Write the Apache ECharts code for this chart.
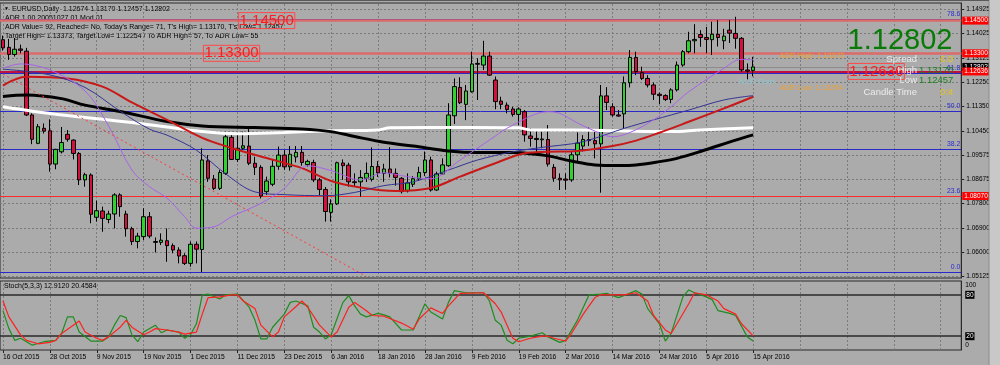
<!DOCTYPE html>
<html><head><meta charset="utf-8">
<script src="https://cdn.jsdelivr.net/npm/echarts@6/dist/echarts.min.js"></script>
<style>html,body{margin:0;padding:0;background:#ababab;overflow:hidden}#c{width:1000px;height:365px}</style>
</head><body><div id="c"></div>
<script>
// ---------- categories (trading days) ----------
const MONTH_DAYS = [
  ['Oct', 2015, [16,19,20,21,22,23,26,27,28,29,30]],
  ['Nov', 2015, [2,3,4,5,6,9,10,11,12,13,16,17,18,19,20,23,24,25,26,27,30]],
  ['Dec', 2015, [1,2,3,4,7,8,9,10,11,14,15,16,17,18,21,22,23,24,28,29,30,31]],
  ['Jan', 2016, [4,5,6,7,8,11,12,13,14,15,18,19,20,21,22,25,26,27,28,29]],
  ['Feb', 2016, [1,2,3,4,5,8,9,10,11,12,15,16,17,18,19,22,23,24,25,26,29]],
  ['Mar', 2016, [1,2,3,4,7,8,9,10,11,14,15,16,17,18,21,22,23,24,25,28,29,30,31]],
  ['Apr', 2016, [1,4,5,6,7,8,11,12,13,14,15]]
];
// ---------- OHLC ----------
const OPEN = [
1.1380,1.1352,1.1326,1.1346,1.1338,1.1104,1.1000,1.1055,1.1046,1.0924,
1.0969,1.1033,1.1012,1.0963,1.0866,1.0884,1.0729,1.0752,1.0721,1.0741,
1.0811,1.0741,1.0687,1.0640,1.0658,1.0731,1.0640,1.0637,1.0643,1.0625,
1.0609,1.0588,1.0560,1.0630,1.0611,1.0936,1.0869,1.0835,1.0890,1.1022,
1.0941,1.0982,1.0990,1.0927,1.0912,1.0823,1.0850,1.0916,1.0957,1.0914,
1.0950,1.0967,1.0922,1.0930,1.0866,1.0831,1.0747,1.0778,1.0928,1.0920,
1.0859,1.0859,1.0872,1.0868,1.0915,1.0890,1.0906,1.0890,1.0872,1.0826,
1.0850,1.0870,1.0893,1.0939,1.0829,1.0888,1.0918,1.1101,1.1205,1.1143,
1.1189,1.1293,1.1287,1.1320,1.1232,1.1155,1.1140,1.1126,1.1106,1.1116,
1.1027,1.1018,1.1013,1.1014,1.0912,1.0872,1.0869,1.0866,1.0958,1.0990,
1.1014,1.1010,1.0998,1.1174,1.1134,1.1104,1.1108,1.1222,1.1315,1.1259,
1.1238,1.1214,1.1180,1.1175,1.1161,1.1196,1.1287,1.1336,1.1376,1.1399,
1.1388,1.1380,1.1400,1.1376,1.1415,1.1403,1.1385,1.1269,1.12674];
const CLOSE = [
1.1350,1.1326,1.1345,1.1341,1.1104,1.1015,1.1061,1.1045,1.0924,1.0978,
1.1003,1.1015,1.0963,1.0866,1.0885,1.0740,1.0753,1.0725,1.0741,1.0811,
1.0768,1.0687,1.0640,1.0660,1.0731,1.0660,1.0637,1.0645,1.0625,1.0609,
1.0587,1.0560,1.0630,1.0612,1.0939,1.0872,1.0835,1.0893,1.1024,1.0941,
1.0982,1.0991,1.0927,1.0912,1.0807,1.0862,1.0916,1.0957,1.0914,1.0960,
1.0967,1.0930,1.0934,1.0866,1.0831,1.0750,1.0778,1.0929,1.0918,1.0859,
1.0856,1.0875,1.0890,1.0915,1.0892,1.0906,1.0890,1.0875,1.0823,1.0855,
1.0870,1.0893,1.0939,1.0829,1.0888,1.0921,1.1104,1.1208,1.1149,1.1192,
1.1291,1.1290,1.1320,1.1250,1.1153,1.1143,1.1124,1.1106,1.1126,1.1031,
1.1018,1.1014,1.1016,1.0924,1.0872,1.0866,1.0865,1.0958,1.1001,1.1014,
1.1010,1.0998,1.1174,1.1150,1.1104,1.1100,1.1222,1.1315,1.1263,1.1238,
1.1214,1.1180,1.1175,1.1161,1.1196,1.1287,1.1336,1.1376,1.1381,1.1388,
1.1381,1.1400,1.1388,1.1393,1.1404,1.1385,1.1269,1.1265,1.12802];
const HIGH = [
1.1395,1.1383,1.1386,1.1362,1.1350,1.1110,1.1071,1.1073,1.1088,1.0980,
1.1060,1.1049,1.1015,1.0968,1.0892,1.0890,1.0790,1.0768,1.0753,1.0817,
1.0817,1.0753,1.0694,1.0672,1.0762,1.0748,1.0655,1.0670,1.0688,1.0633,
1.0619,1.0597,1.0640,1.0640,1.0982,1.0957,1.0884,1.0902,1.1043,1.1030,
1.1039,1.1043,1.1055,1.0951,1.0920,1.0878,1.0941,1.0988,1.0975,1.0990,
1.0990,1.0990,1.0940,1.0940,1.0873,1.0840,1.0795,1.0933,1.0941,1.0929,
1.0890,1.0902,1.0930,1.0985,1.0935,1.0925,1.0986,1.0908,1.0876,1.0890,
1.0880,1.0914,1.0970,1.0951,1.0896,1.0945,1.1147,1.1238,1.1242,1.1214,
1.1336,1.1312,1.1376,1.1336,1.1245,1.1171,1.1150,1.1134,1.1132,1.1122,
1.1055,1.1051,1.1043,1.1067,1.0924,1.0890,1.0890,1.0970,1.1040,1.1030,
1.1058,1.1050,1.1214,1.1206,1.1147,1.1122,1.1245,1.1342,1.1336,1.1281,
1.1250,1.1223,1.1186,1.1180,1.1202,1.1300,1.1342,1.1409,1.1437,1.1415,
1.1427,1.1446,1.1452,1.1420,1.1452,1.1464,1.1390,1.1293,1.13170];
const LOW = [
1.1340,1.1306,1.1318,1.1330,1.1100,1.0997,1.0997,1.1036,1.0896,1.0905,
1.0963,1.1006,1.0941,1.0847,1.0841,1.0707,1.0713,1.0676,1.0707,1.0688,
1.0731,1.0658,1.0627,1.0615,1.0646,1.0652,1.0600,1.0627,1.0566,1.0597,
1.0560,1.0554,1.0548,1.0560,1.0528,1.0859,1.0829,1.0829,1.0884,1.0939,
1.0932,1.0976,1.0920,1.0884,1.0798,1.0811,1.0843,1.0903,1.0903,1.0900,
1.0930,1.0918,1.0915,1.0858,1.0810,1.0713,1.0713,1.0774,1.0866,1.0841,
1.0841,1.0804,1.0858,1.0860,1.0877,1.0859,1.0875,1.0845,1.0816,1.0820,
1.0840,1.0863,1.0880,1.0823,1.0826,1.0884,1.0914,1.1071,1.1144,1.1085,
1.1186,1.1159,1.1269,1.1247,1.1125,1.1125,1.1110,1.1098,1.1067,1.1006,
1.0988,1.0963,1.0982,1.0915,1.0859,1.0829,1.0830,1.0859,1.0930,1.0970,
1.0990,1.0945,1.0819,1.1122,1.1098,1.1098,1.1055,1.1205,1.1250,1.1232,
1.1205,1.1159,1.1144,1.1155,1.1147,1.1190,1.1281,1.1330,1.1330,1.1354,
1.1330,1.1324,1.1355,1.1345,1.1368,1.1347,1.1263,1.1232,1.12457];
// ---------- moving averages, read at points: [barIndex, price] ----------
const MA_WHITE = [[0,1.1134],[5,1.1118],[11,1.1102],[17,1.1088],[22,1.1076],[28,1.1060],[34,1.1043],[40,1.1035],[48,1.1040],[56,1.1046],[64,1.1049],[66,1.1057],[80,1.1058],[88,1.1057],[90,1.1049],[97,1.1049],[105,1.1046],[114,1.1043],[119,1.1049],[128,1.1057]];
const MA_BLACK = [[0,1.1172],[4,1.1177],[10,1.1164],[14,1.1140],[20,1.1117],[28,1.1080],[34,1.1064],[43,1.1058],[51,1.1053],[56,1.1043],[60,1.1025],[65,1.1004],[70,1.0990],[76,1.0972],[81,1.0966],[87,1.0966],[90,1.0962],[93,1.0954],[97,1.0935],[101,1.0921],[105,1.0919],[108,1.0921],[112,1.0933],[115,1.0945],[119,1.0970],[125,1.1012],[128,1.1031]];
const MA_RED = [[0,1.1212],[4,1.1244],[11,1.1238],[17,1.1208],[22,1.1150],[28,1.1086],[34,1.1020],[39,1.0983],[45,1.0946],[51,1.0909],[56,1.0862],[61,1.0838],[67,1.0825],[73,1.0836],[78,1.0878],[84,1.0927],[89,1.0964],[93,1.0969],[98,1.0972],[104,1.0990],[108,1.1010],[112,1.1039],[117,1.1079],[123,1.1128],[128,1.1171]];
const MA_NAVY = [[0,1.1272],[8,1.1251],[14,1.1205],[20,1.1118],[25,1.1052],[28,1.1030],[33,1.0975],[38,1.0888],[43,1.0822],[48,1.0812],[55,1.0808],[60,1.0820],[65,1.0845],[70,1.0859],[76,1.0902],[81,1.0939],[87,1.0969],[93,1.0988],[97,1.0998],[100,1.1012],[106,1.1055],[111,1.1086],[117,1.1122],[123,1.1159],[128,1.1175]];
const MA_PURPLE = [[0,1.1275],[3,1.1291],[8,1.1269],[14,1.1192],[18,1.1065],[22,1.0902],[25,1.0841],[28,1.0799],[31,1.0731],[33,1.0689],[36,1.0694],[39,1.0731],[44,1.0780],[48,1.0835],[52,1.0918],[56,1.0900],[61,1.0866],[65,1.0892],[69,1.0878],[73,1.0870],[78,1.0939],[83,1.1012],[87,1.1067],[93,1.1116],[95,1.1110],[98,1.1075],[101,1.1045],[104,1.1024],[107,1.1040],[111,1.1086],[114,1.1134],[117,1.1189],[123,1.1275],[126,1.1308],[128,1.1306]];
const TRENDLINE = [[0,1.1254],[62,1.0512]];
// ---------- stochastic (5,3,3) ----------
const STOCH_K = [[0,57],[1,31],[2,14],[3,17],[5,7],[7,12],[9,14],[10,24],[11,48],[12,48],[13,26],[15,13],[17,13],[18,19],[19,36],[20,50],[21,47],[22,22],[23,12],[24,26],[26,36],[27,25],[28,29],[30,26],[31,17],[32,22],[33,38],[34,80],[35,81],[37,74],[38,80],[40,81],[42,62],[43,43],[44,16],[45,16],[46,33],[48,52],[49,69],[50,71],[52,64],[53,33],[54,26],[55,16],[56,22],[58,69],[59,79],[60,64],[61,52],[62,48],[64,53],[65,51],[66,48],[68,29],[70,29],[72,67],[73,55],[75,45],[76,69],[77,86],[79,83],[82,83],[83,71],[84,43],[85,36],[86,14],[87,9],[88,17],[90,20],[92,25],[93,19],[95,11],[96,14],[98,43],[100,80],[102,81],[103,82],[105,76],[106,79],[108,86],[109,81],[110,60],[112,38],[113,13],[114,24],[116,77],[117,87],[118,83],[120,77],[121,73],[122,57],[124,53],[125,50],[127,19],[128,12.912]];
const STOCH_D = [[0,71],[1,48],[3,22],[4,14],[6,9],[8,11],[9,14],[10,24],[12,36],[13,42],[14,26],[16,17],[17,14],[18,19],[20,33],[21,43],[22,33],[24,22],[25,26],[26,31],[28,29],[30,26],[31,23],[33,26],[34,52],[35,76],[37,77],[39,80],[40,80],[41,71],[43,60],[44,36],[46,19],[47,26],[48,48],[50,63],[51,71],[52,62],[54,36],[56,19],[57,26],[59,62],[60,69],[62,57],[63,50],[65,49],[68,39],[70,30],[71,45],[73,61],[75,53],[76,64],[78,82],[82,83],[84,67],[85,55],[86,36],[87,17],[88,12],[90,17],[92,20],[93,20],[94,17],[96,13],[97,24],[99,52],[101,76],[102,80],[104,80],[106,80],[108,83],[110,71],[111,50],[113,29],[114,24],[115,38],[117,67],[118,83],[120,80],[122,71],[123,60],[125,52],[126,38],[128,20.4584]];
// ---------- levels / ticks ----------
const PRICE_TICKS = [1.14925,1.14025,1.13125,1.12250,1.11350,1.10450,1.09575,1.08675,1.07800,1.06900,1.06000,1.05125];
const LEVELS_LIGHT = [1.14500, 1.13300];
const LEVEL_CRIMSON = 1.12636;
const LEVEL_RED = 1.08070;
const CURRENT_PRICE = 1.12802;
const FIBO = [['78.6',1.14563],['61.8',1.12580],['50.0',1.11186],['38.2',1.09793],['23.6',1.08069],['0.0',1.05283]];
const ADR_HIGH = 1.13373, ADR_LOW = 1.12254;
const STOCH_LEVELS = [80, 20];

// ---------- build ----------
const FONT = '"Liberation Sans",Arial,sans-serif';
const CATS = [];
MONTH_DAYS.forEach(([m, y, days]) => days.forEach(d => CATS.push(d + ' ' + m + ' ' + y)));
const N_BARS = CATS.length;
const N_SLOTS = 164;
for (let k = N_BARS; k < N_SLOTS; k++) CATS.push('+' + (k - N_BARS + 1));
const VGRID = [];
for (let k = 0; k < N_SLOTS; k += 8) VGRID.push(k);
const candles = OPEN.map((o, i) => [o, CLOSE[i], LOW[i], HIGH[i]]);

const GL = -1.24, GW = 962.5;
const chart = echarts.init(document.getElementById('c'), null, {renderer: 'canvas', width: 1000, height: 365});

const gridLine = {color: '#7b7b7b', type: [2, 2], width: 1};
const tag = (bg) => ({show: true, position: 'end', distance: 1, formatter: p => Number(p.value).toFixed(5),
  backgroundColor: bg, color: '#fff', fontSize: 6.5, fontFamily: FONT, padding: [1, 2, 0, 2]});
const maLine = (name, data, color, width, extra) => Object.assign({
  name, type: 'line', xAxisIndex: 0, yAxisIndex: 0, data, showSymbol: false, smooth: 0.35,
  lineStyle: {color, width}, z: 4, silent: true, animation: false}, extra || {});
const boxLabel = (txt, idx, price) => ({
  coord: [idx, price], symbolSize: 0, value: txt,
  label: {show: true, position: 'inside', formatter: txt, color: '#ff1c1c', fontSize: 15, fontFamily: FONT,
    borderColor: '#ff4a4a', borderWidth: 1, padding: [1, 1, 0, 1], lineHeight: 15}
});
const txtLabel = (txt, idx, price, color, size, dy) => ({
  coord: [idx, price], symbolSize: 0, value: txt,
  label: {show: true, position: 'right', distance: 3, offset: [0, dy], formatter: txt, color, fontSize: size, fontFamily: FONT}
});
const T = (x, y, text, fill, size, extra) => Object.assign({type: 'text', x, y, z: 0,
  style: Object.assign({text, fill, fontSize: size, fontFamily: FONT, verticalAlign: 'middle'}, (extra && extra.style) || {})},
  extra && extra.z !== undefined ? {z: extra.z} : {});

const option = {
  backgroundColor: '#ababab',
  animation: false,
  textStyle: {fontFamily: FONT},
  grid: [
    {left: GL, top: 3, width: GW, height: 275, show: true, borderColor: '#2b2b2b', borderWidth: 1},
    {left: GL, top: 281, width: GW, height: 69, show: true, borderColor: '#2b2b2b', borderWidth: 1}
  ],
  xAxis: [
    {type: 'category', gridIndex: 0, data: CATS, boundaryGap: true, axisLine: {show: false}, axisTick: {show: false}, axisLabel: {show: false}, splitLine: {show: false}},
    {type: 'category', gridIndex: 1, data: CATS, boundaryGap: true, axisLine: {show: false},
      axisTick: {show: true, alignWithLabel: true, interval: i => i % 8 === 0 && i < N_BARS, length: 3, lineStyle: {color: '#222'}},
      axisLabel: {interval: i => i % 8 === 0 && i < N_BARS, align: 'left', margin: 4, fontSize: 6.7, color: '#000', fontFamily: FONT},
      splitLine: {show: false}}
  ],
  yAxis: [
    {type: 'value', gridIndex: 0, position: 'right', min: 1.050635, max: 1.15145, splitLine: {show: false},
      axisLine: {show: true, lineStyle: {color: '#2b2b2b'}},
      axisTick: {show: true, customValues: PRICE_TICKS, length: 3, lineStyle: {color: '#222'}},
      axisLabel: {customValues: PRICE_TICKS, formatter: v => v.toFixed(5), fontSize: 6.5, color: '#000', margin: 5, fontFamily: FONT}},
    {type: 'value', gridIndex: 1, position: 'right', min: 0, max: 100, splitLine: {show: false},
      axisLine: {show: true, lineStyle: {color: '#2b2b2b'}}, axisTick: {show: false},
      axisLabel: {customValues: [0, 20, 80, 100], margin: 4, fontSize: 6.5, color: '#000', fontFamily: FONT,
        formatter: v => v === 100 ? '{t|100}' : v === 0 ? '{z|0}' : '{b|' + v + '}',
        rich: {t: {padding: [9, 0, 0, 0], fontSize: 6.5, color: '#000'}, z: {padding: [0, 0, 9, 0], fontSize: 6.5, color: '#000'},
          b: {backgroundColor: '#000', color: '#fff', fontSize: 6.5, padding: [1, 1, 0, 1]}}}}
  ],
  series: [
    {name: 'grid-main', type: 'line', xAxisIndex: 0, yAxisIndex: 0, data: [], silent: true,
      markLine: {z: 1, precision: 6, silent: true, symbol: 'none', label: {show: false}, lineStyle: gridLine, animation: false,
        data: PRICE_TICKS.map(v => ({yAxis: v})).concat(VGRID.map(i => ({xAxis: i})))}},
    {name: 'grid-stoch', type: 'line', xAxisIndex: 1, yAxisIndex: 1, data: [], silent: true,
      markLine: {z: 1, precision: 6, silent: true, symbol: 'none', label: {show: false}, lineStyle: gridLine, animation: false,
        data: VGRID.map(i => ({xAxis: i})).concat(STOCH_LEVELS.map(v => ({yAxis: v, lineStyle: {color: '#2a2a2a', type: 'solid', width: 1.5}})))}},
    {name: 'levels', type: 'line', xAxisIndex: 0, yAxisIndex: 0, data: [], silent: true,
      markLine: {z: 2, precision: 6, silent: true, symbol: 'none', animation: false, label: {show: false},
        data: [
          ...FIBO.map(([t, v]) => ({yAxis: v, lineStyle: {color: '#2a2ac8', type: 'solid', width: 1},
            label: {show: true, position: 'insideEndTop', distance: 1, formatter: t, color: '#2a2ad0', fontSize: 6.8, fontFamily: FONT}})),
          {yAxis: CURRENT_PRICE, lineStyle: {color: '#8c8c8c', type: 'solid', width: 1}, label: tag('#000')},
          ...LEVELS_LIGHT.map(v => ({yAxis: v, lineStyle: {color: '#dc6a6a', type: 'solid', width: 2.5}, label: tag('#ff0000')})),
          {yAxis: LEVEL_CRIMSON, lineStyle: {color: '#c0103e', type: 'solid', width: 2}, label: tag('#ff0000')},
          {yAxis: LEVEL_RED, lineStyle: {color: '#ff2a2a', type: 'solid', width: 1}, label: tag('#ff0000')}
        ]}},
    {name: 'EURUSD', type: 'candlestick', xAxisIndex: 0, yAxisIndex: 0, data: candles, barWidth: 4, z: 3, silent: true,
      itemStyle: {color: '#2fd22f', color0: '#d4103c', borderColor: '#000', borderColor0: '#000', borderWidth: 1},
      markPoint: {z: 6, silent: true, symbol: 'circle', animation: false, data: [
        boxLabel('1.14500', 45, 1.14500),
        boxLabel('1.13300', 39, 1.13300),
        boxLabel('1.12636', 149, 1.12636),
        txtLabel('ADR High: 1.13373', 132, ADR_HIGH, '#f0a030', 7.5, 5),
        txtLabel('ADR Low: 1.12254', 132, ADR_LOW, '#f0a030', 7.5, 6),
        txtLabel('ADR Start', 125, ADR_LOW, '#8fc4d0', 8, 0)
      ]}},
    maLine('white', MA_WHITE, '#ffffff', 3),
    maLine('black', MA_BLACK, '#000000', 3),
    maLine('red', MA_RED, '#c81818', 2),
    maLine('navy', MA_NAVY, '#343494', 1),
    maLine('purple', MA_PURPLE, '#a864e6', 1),
    maLine('trend', TRENDLINE, '#ff3a3a', 1, {smooth: false, lineStyle: {color: '#ff3a3a', width: 1, type: [2, 3]}}),
    {name: 'K', type: 'line', xAxisIndex: 1, yAxisIndex: 1, data: STOCH_K, showSymbol: false, silent: true, z: 4, lineStyle: {color: '#1e8c1e', width: 1.2}},
    {name: 'D', type: 'line', xAxisIndex: 1, yAxisIndex: 1, data: STOCH_D, showSymbol: false, silent: true, z: 4, lineStyle: {color: '#ff2020', width: 1.2}}
  ],
  graphic: {elements: [
    {type: 'rect', shape: {x: 989, y: 0, width: 11, height: 365}, style: {fill: '#c8c8c8'}, z: 20},
    {type: 'line', shape: {x1: 989, y1: 0, x2: 989, y2: 365}, style: {stroke: '#8a8a8a', lineWidth: 1}, z: 20},
    {type: 'line', shape: {x1: 0, y1: 0.5, x2: 989, y2: 0.5}, style: {stroke: '#5a5a5a', lineWidth: 1}, z: 20},
    T(4, 9, '\u25BC', '#000', 5),
    T(12, 9, 'EURUSD,Daily  1.12674 1.13170 1.12457 1.12802', '#000', 7),
    T(5, 18, 'ADR 1.00 20051027 01 Mod 01', '#000', 7),
    T(5, 27, "ADR Value= 92, Reached= No, Today's Range= 71, T's High= 1.13170, T's Low= 1.12457", '#000', 7),
    T(5, 36, 'Target High= 1.13373, Target Low= 1.12254 / To ADR High= 57, To ADR Low= 55', '#000', 7),
    T(4, 286, 'Stoch(5,3,3) 12.9120 20.4584', '#000', 7),
    T(900, 41, '1.12802', '#077a07', 29, {z: 10, style: {align: 'center'}}),
    T(917, 59, 'Spread', '#ececec', 9.5, {z: 10, style: {align: 'right'}}),
    T(940, 59, '6.0', '#e8c21a', 9.5, {z: 10}),
    T(917, 70, 'High', '#ececec', 9.5, {z: 10, style: {align: 'right'}}),
    T(919, 70, '1.13170', '#1a7e1a', 9.5, {z: 10}),
    T(917, 80, 'Low', '#ececec', 9.5, {z: 10, style: {align: 'right'}}),
    T(919, 80, '1.12457', '#1a7e1a', 9.5, {z: 10}),
    T(917, 92, 'Candle Time', '#ececec', 9.5, {z: 10, style: {align: 'right'}}),
    T(940, 92, '0:4', '#e8c21a', 9.5, {z: 10})
  ]}
};
chart.setOption(option);
</script></body></html>
